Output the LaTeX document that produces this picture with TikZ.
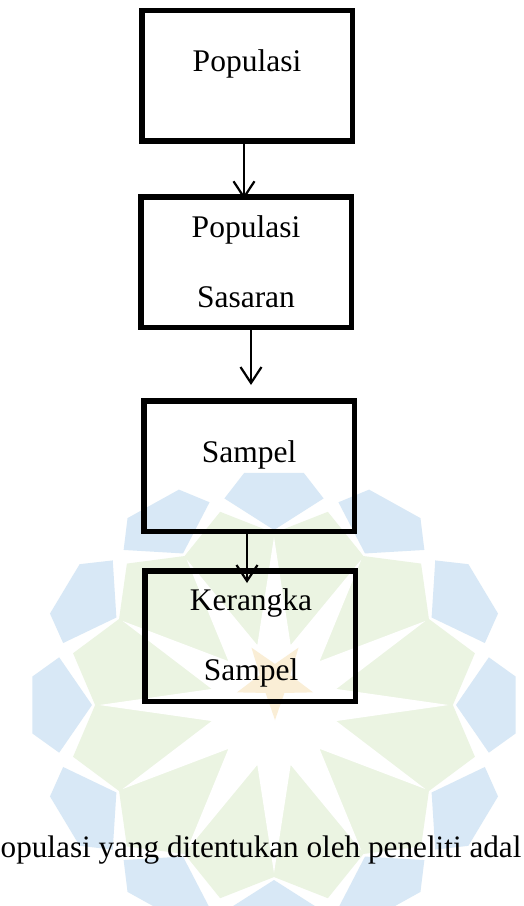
\documentclass[tikz,border=0pt]{standalone}
\usepackage{fontspec}
\setmainfont{Liberation Serif}
\usetikzlibrary{arrows.meta}
\definecolor{wmblue}{RGB}{216,232,246}
\definecolor{wmgreen}{RGB}{235,244,226}
\definecolor{wmorange}{RGB}{250,238,214}
\begin{document}
\begin{tikzpicture}[x=1pt,y=-1pt,
  box/.style={draw=black,line width=5.5pt,inner sep=0pt,outer sep=0pt,
    minimum width=210.5pt,minimum height=130.5pt},
  lbl/.style={font=\fontsize{31.5}{37}\selectfont,inner sep=0pt,anchor=base},
  arr/.style={line width=2.2pt,-{Straight Barb[length=16pt,width=21pt]}}]
\useasboundingbox (0,0) rectangle (523,906);
\fill[white] (0,0) rectangle (523,906);
% watermark
\begin{scope}[shift={(274,705)},xscale=1.04]
  \fill[wmgreen] (0:172) \foreach \a in {0,30,...,330}{ -- ({\a+15}:200) -- ({\a+30}:172) } -- cycle;
  \fill[white] (0:168) \foreach \a in {0,30,...,330}{ -- ({\a+15}:62) -- ({\a+30}:168) } -- cycle;
  \foreach \a in {0,30,...,330}{
    \fill[wmblue] ({\a-7}:234) -- ({\a+7}:234) -- ({\a+13}:212) -- (\a:175) -- ({\a-13}:212) -- cycle;
  }
\end{scope}
\begin{scope}[shift={(275,680)}]
  \fill[wmorange] (90:40) \foreach \a in {90,162,234,306,378}{ -- ({\a+36}:16) -- ({\a+72}:40) } -- cycle;
\end{scope}
% boxes
\node[box] (b1) at (247,75.5) {};
\node[box] (b2) at (246,262) {};
\node[box] (b3) at (249,466) {};
\node[box] (b4) at (250,636) {};
% labels
\node[lbl] (t1) at (247,71) {Populasi};
\node[lbl] (t2a) at (246,237) {Populasi};
\node[lbl] (t2b) at (246,307) {Sasaran};
\node[lbl] (t3) at (249,462) {Sampel};
\node[lbl] (t4a) at (251,610) {Kerangka};
\node[lbl] (t4b) at (251,680) {Sampel};
% connectors
\coordinate (e2) at (251,385);
\coordinate (e3) at (247,583);
\draw[arr] ([xshift=-3pt]b1.south) -- ([xshift=-2pt,yshift=-2.5pt]b2.north);
\draw[arr] ([xshift=5pt]b2.south) -- (e2);
\draw[arr] ([xshift=-2pt]b3.south) -- (e3);
% bottom text
\node[font=\fontsize{31.2}{37}\selectfont,inner sep=0pt,anchor=base west] (bt) at (0.5,857) {opulasi yang ditentukan oleh peneliti adal};
\end{tikzpicture}
\end{document}
